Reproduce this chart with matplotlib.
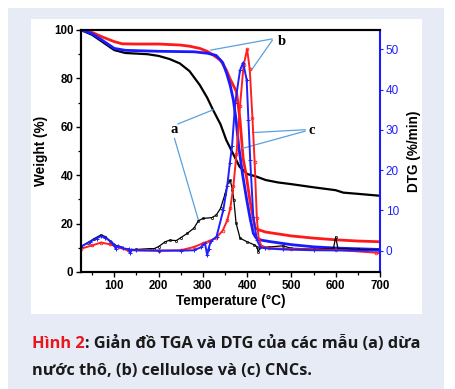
import matplotlib
matplotlib.use("Agg")
import matplotlib.pyplot as plt
from matplotlib.patches import Rectangle

# ---------------- data ----------------
# TGA (weight %, left axis)
T_tga_a = [25, 50, 70, 100, 125, 175, 200, 225, 248, 270, 293, 310, 323, 340, 353, 368, 383, 400, 420, 442, 470, 500, 550, 600, 617, 650, 700]
W_tga_a = [100, 98, 95.5, 91.7, 90.5, 90, 89.3, 88, 86.2, 83, 77.3, 72, 67, 61, 54.5, 49, 43.5, 40.5, 39.5, 38, 37, 36.3, 35, 33.8, 32.8, 32.3, 31.5]

T_tga_b = [25, 50, 75, 100, 118, 150, 200, 248, 270, 293, 310, 323, 340, 353, 361, 376, 384, 391, 398, 406, 413, 418, 425, 442, 500, 550, 600, 650, 700]
W_tga_b = [100, 99, 97, 95.2, 94.3, 94.2, 94.2, 93.8, 93.3, 92.4, 91.2, 89.7, 87.5, 83.5, 80, 74.5, 62.8, 47, 40, 30, 23, 18.3, 17.5, 16.5, 14.9, 14, 13.3, 12.8, 12.5]

T_tga_c = [25, 50, 75, 100, 125, 200, 280, 310, 330, 345, 354, 362, 369, 375, 381, 390, 399, 407, 414, 420, 428, 450, 500, 550, 600, 650, 700]
W_tga_c = [100, 98.5, 95.5, 92.4, 91.6, 91.2, 91, 90.4, 89.5, 86.5, 82, 77, 71, 63, 52, 40, 30, 22, 16, 14.2, 13.3, 12.6, 11.3, 10.4, 9.9, 9.6, 9.3]

# DTG (%/min, right axis)
T_dtg_a = [25, 40, 55, 70, 80, 90, 100, 115, 130, 150, 180, 190, 200, 215, 225, 240, 250, 265, 280, 290, 300, 320, 330, 340, 350, 357, 362, 367, 370, 375, 384, 400, 415, 422, 425, 430, 450, 480, 500, 550, 595, 600, 605, 650, 700]
D_dtg_a = [1.0, 2.0, 3.0, 3.9, 3.5, 2.5, 1.5, 0.8, 0.3, 0.3, 0.5, 0.5, 1.0, 2.2, 2.6, 2.5, 3.2, 4.3, 5.6, 7.4, 8.0, 8.2, 8.8, 10.5, 14, 17.0, 17.5, 15, 12.6, 6.9, 3.1, 2.2, 1.5, 1.0, -0.3, 0.8, 0.9, 1.2, 0.6, 0.4, 0.6, 3.4, 0.5, 0.3, 0.2]

T_dtg_b = [25, 50, 70, 90, 110, 130, 200, 250, 280, 300, 315, 330, 345, 355, 362, 369, 376, 384, 392, 400, 406, 412, 417, 422, 426, 432, 450, 500, 600, 690, 700]
D_dtg_b = [0.5, 1.3, 2.0, 1.6, 0.8, 0.1, 0, 0.1, 0.9, 1.8, 2.4, 3.2, 5.0, 7.5, 10.5, 16, 24, 36, 46, 50, 45, 33, 22, 8, 3, 1.2, 0.6, 0.4, 0.2, -0.5, -0.6]

T_dtg_c = [25, 45, 60, 70, 80, 95, 100, 103, 108, 120, 133, 135, 138, 150, 200, 250, 280, 295, 305, 310, 313, 318, 331, 346, 355, 361, 366, 373, 384, 391, 399, 403, 407, 414, 422, 430, 440, 480, 550, 700]
D_dtg_c = [1.0, 2.2, 3.0, 3.6, 3.2, 2.0, 1.5, 0.5, 1.2, 0.6, 0.3, -0.5, 0.2, 0.1, 0, 0, 0.1, 0.8, 1.8, -1.2, 0.5, 2.3, 3.5, 10, 16, 21.7, 26, 36.6, 44.8, 46.7, 42.4, 32.4, 22.5, 8.4, 2.7, 0.8, 0.6, 0.3, 0.1, 0]

x_ticks = [100, 200, 300, 400, 500, 600, 700]
w_ticks = [0, 20, 40, 60, 80, 100]
d_ticks = [0, 10, 20, 30, 40, 50]

caption_red = "Hình 2"
caption_line1 = ": Giản đồ TGA và DTG của các mẫu (a) dừa"
caption_line2 = "nước thô, (b) cellulose và (c) CNCs."

# ---------------- figure ----------------
W, H = 455, 389
fig = plt.figure(figsize=(W / 100, H / 100), dpi=100, facecolor="white")

def rect(x0, y0, x1, y1, color):
    fig.patches.append(Rectangle((x0 / W, 1 - y1 / H), (x1 - x0) / W, (y1 - y0) / H,
                                 transform=fig.transFigure, facecolor=color,
                                 edgecolor="none", zorder=-10))

rect(8, 8, 444, 389, "#e7ebf6")
rect(31, 19, 422, 314, "white")

ax = fig.add_axes([81 / W, 1 - 272 / H, (380 - 81) / W, (272 - 30) / H])
ax.set_facecolor("white")
ax2 = ax.twinx()

fam = ["Liberation Sans", "DejaVu Sans"]

# TGA curves
ax.plot(T_tga_a, W_tga_a, color="black", lw=1.6, zorder=3)
ax.plot(T_tga_b, W_tga_b, color="#ff1a1a", lw=2.0, zorder=3)
ax.plot(T_tga_c, W_tga_c, color="#1a1aff", lw=2.0, zorder=4)

# DTG curves
ax2.plot(T_dtg_a, D_dtg_a, color="black", lw=0.9, marker="o", ms=1.6, mfc="none", mew=0.5)
ax2.plot(T_dtg_b, D_dtg_b, color="#ff2020", lw=1.4, marker="o", ms=2.0, mfc="none", mew=0.6)
ax2.plot(T_dtg_c, D_dtg_c, color="#2020ff", lw=1.4, marker="+", ms=3.0, mew=0.7)

ax.set_xlim(25, 700)
ax.set_ylim(0, 100)
ax2.set_ylim(-5.3, 54.8)

ax.set_xticks(x_ticks)
ax.set_xticks(list(range(50, 701, 100)), minor=True)
ax.set_yticks(w_ticks)
ax.set_yticks(list(range(10, 100, 20)), minor=True)
ax2.set_yticks(d_ticks)

ax.tick_params(axis="both", which="major", direction="out", length=3.5, width=1.0,
               labelsize=8.3, pad=2)
ax.tick_params(axis="both", which="minor", direction="out", length=2.5, width=0.9)
ax2.tick_params(axis="y", which="major", direction="out", length=2, width=0.8,
                colors="#2020ff", labelsize=8.5, pad=2)
for lab in ax.get_xticklabels() + ax.get_yticklabels():
    lab.set_fontweight("bold")
    lab.set_family(fam)
for lab in ax2.get_yticklabels():
    lab.set_family(fam)

for s in ["left", "bottom", "top"]:
    ax.spines[s].set_linewidth(1.5)
    ax2.spines[s].set_linewidth(1.5)
ax2.spines["right"].set_color("#1a1aff")
ax2.spines["right"].set_linewidth(1.5)
ax.spines["right"].set_visible(False)

ax.set_xlabel("Temperature (°C)", fontsize=9.8, fontweight="bold", family=fam, labelpad=2)
ax.set_ylabel("Weight (%)", fontsize=9.8, fontweight="bold", family=fam, labelpad=4)
ax2.set_ylabel("DTG (%/min)", fontsize=9.8, fontweight="bold", family=fam, labelpad=6)

# annotations
lc = "#5aa0dc"
serif = ["Liberation Serif", "DejaVu Serif"]
ax.text(478, 95.2, "b", fontsize=10.5, fontweight="bold", family=serif, ha="center", va="center", zorder=6)
ax.plot([456, 318], [96.3, 91.7], color=lc, lw=0.9, zorder=5)
ax.plot([457, 410], [95.8, 83.5], color=lc, lw=0.9, zorder=5)
ax.text(236, 58.7, "a", fontsize=10.5, fontweight="bold", family=serif, ha="center", va="center", zorder=6)
ax.plot([244, 323], [61.2, 67], color=lc, lw=0.9, zorder=5)
ax.plot([236, 290], [55.2, 21.5], color=lc, lw=0.9, zorder=5)
ax.text(546, 58.4, "c", fontsize=10.5, fontweight="bold", family=serif, ha="center", va="center", zorder=6)
ax.plot([531, 412], [58.8, 57.6], color=lc, lw=0.9, zorder=5)
ax.plot([531, 390], [58.2, 51.1], color=lc, lw=0.9, zorder=5)

# caption
cfam = ["Open Sans", "DejaVu Sans"]
cfs = 11.8
t1 = fig.text(32 / W, 1 - 344 / H, caption_red, color="#e8161d", fontsize=cfs,
              fontweight="bold", family=cfam, ha="left", va="center")
fig.canvas.draw()
bb = t1.get_window_extent(renderer=fig.canvas.get_renderer())
fig.text(bb.x1 / W, 1 - 344 / H, caption_line1, color="#1a1a1a", fontsize=cfs,
         fontweight="bold", family=cfam, ha="left", va="center")
fig.text(32 / W, 1 - 371 / H, caption_line2, color="#1a1a1a", fontsize=cfs,
         fontweight="bold", family=cfam, ha="left", va="center")

fig.savefig("out.png", dpi=100, facecolor="white")
